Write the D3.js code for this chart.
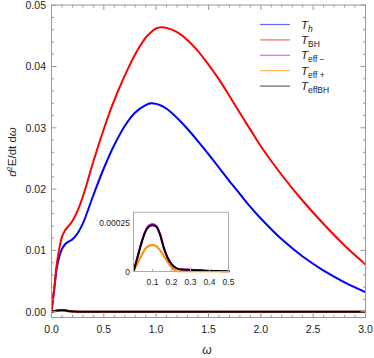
<!DOCTYPE html>
<html>
<head>
<meta charset="utf-8">
<script src="https://cdn.jsdelivr.net/npm/d3@7"></script>
<style>
  body { margin: 0; background: #fff; }
  text { font-family: "Liberation Sans", Arial, sans-serif; fill: #222; }
</style>
</head>
<body>
<div id="chart"></div>
<script>
// main curves (omega, d2E/dt domega)
var omegaMain = [0, 0.03, 0.05, 0.08, 0.1, 0.13, 0.16, 0.2, 0.25, 0.3, 0.4, 0.5, 0.6, 0.7, 0.8, 0.9, 0.95, 1.0, 1.05, 1.1, 1.2, 1.3, 1.4, 1.5, 1.6, 1.7, 1.8, 1.9, 2.0, 2.2, 2.4, 2.6, 2.8, 3.0];
var valsTh  = [0, 0.0042, 0.0071, 0.0093, 0.0102, 0.0110, 0.0114, 0.0118, 0.0128, 0.0144, 0.0190, 0.0234, 0.0272, 0.0303, 0.0325, 0.0337, 0.0340, 0.0339, 0.0336, 0.0331, 0.0316, 0.0298, 0.0278, 0.0257, 0.0235, 0.0213, 0.0192, 0.0171, 0.0152, 0.0118, 0.0090, 0.0067, 0.0048, 0.0032];
var valsTBH = [0, 0.0045, 0.0077, 0.0108, 0.0122, 0.0133, 0.0139, 0.0148, 0.0165, 0.0188, 0.0245, 0.0298, 0.0345, 0.0385, 0.0420, 0.0447, 0.0456, 0.0462, 0.0464, 0.0463, 0.0456, 0.0443, 0.0425, 0.0403, 0.0379, 0.0352, 0.0324, 0.0297, 0.0270, 0.0223, 0.0181, 0.0143, 0.0108, 0.0077];

// small curves
var omegaSmall = [0, 0.02, 0.04, 0.06, 0.08, 0.1, 0.12, 0.14, 0.16, 0.18, 0.2, 0.22, 0.24, 0.28, 0.32, 0.36, 0.4, 0.45, 0.5, 1.0, 3.0];
var valsEffMinus = [0, 0.000072, 0.000145, 0.000206, 0.000239, 0.000247, 0.000238, 0.000195, 0.000124, 0.000072, 0.000040, 0.000021, 0.000013, 0.000010, 0.000008, 0.000006, 0.000004, 0.000002, 0.000001, 0, 0];
var valsEffPlus  = [0, 0.000040, 0.000080, 0.000115, 0.000133, 0.000138, 0.000132, 0.000110, 0.000080, 0.000050, 0.000022, 0.000005, 0, 0, 0, 0, 0, 0, 0, 0, 0];
var valsEffBH    = [0, 0.000070, 0.000140, 0.000200, 0.000232, 0.000240, 0.000232, 0.000190, 0.000120, 0.000070, 0.000038, 0.000020, 0.000012, 0.000009, 0.000007, 0.000005, 0.000003, 0.000002, 0.000001, 0, 0];

var xTicks = [0, 0.5, 1.0, 1.5, 2.0, 2.5, 3.0];
var yTicks = [0, 0.01, 0.02, 0.03, 0.04, 0.05];
var insetXTicks = [0.1, 0.2, 0.3, 0.4, 0.5];
var insetYTicks = [0, 0.00025];

var series = [
  {key: "eff-", x: omegaSmall, y: valsEffMinus, color: "#ff00ff", legend: "#e466e4", sub: "eff \u2212"},
  {key: "eff+", x: omegaSmall, y: valsEffPlus, color: "#ff8c00", legend: "#ffb455", sub: "eff +"},
  {key: "Th", x: omegaMain, y: valsTh, color: "#0000ff", legend: "#6666ff", sub: "h", subItalic: true},
  {key: "TBH", x: omegaMain, y: valsTBH, color: "#ff0000", legend: "#ff6666", sub: "BH"},
  {key: "effBH", x: omegaSmall, y: valsEffBH, color: "#000000", legend: "#666666", sub: "effBH"}
];
var legendOrder = ["Th", "TBH", "eff-", "eff+", "effBH"];

var W = 374, H = 358;
var svg = d3.select("#chart").append("svg").attr("width", W).attr("height", H);

var x = d3.scaleLinear().domain([0, 3]).range([51.5, 365.5]);
var y = d3.scaleLinear().domain([0, 0.05]).range([311.7, 5.2]);
var yBottom = 317.5, yTop = 5;

function pts(s) { return s.x.map(function(v, i) { return [v, s.y[i]]; }); }

var line = d3.line().curve(d3.curveCatmullRom.alpha(0.5))
  .x(function(d) { return x(d[0]); })
  .y(function(d) { return y(d[1]); });

var g = svg.append("g");
g.append("defs").append("clipPath").attr("id", "clipMain")
  .append("rect").attr("x", x(0)).attr("y", yTop).attr("width", x(3) - x(0)).attr("height", yBottom - yTop);

var plot = g.append("g").attr("clip-path", "url(#clipMain)");
series.forEach(function(s) {
  plot.append("path").attr("d", line(pts(s)))
    .attr("fill", "none").attr("stroke", s.color).attr("stroke-width", 2);
});

// frame
g.append("rect").attr("x", x(0)).attr("y", yTop).attr("width", x(3) - x(0)).attr("height", yBottom - yTop)
  .attr("fill", "none").attr("stroke", "#999").attr("stroke-width", 1);

// ticks
var tk = g.append("g").attr("stroke", "#999").attr("stroke-width", 1);
d3.range(0, 3.0001, 0.1).forEach(function(v) {
  var major = Math.abs(v * 2 - Math.round(v * 2)) < 1e-6;
  var len = major ? 5 : 2.5;
  tk.append("line").attr("x1", x(v)).attr("x2", x(v)).attr("y1", yBottom).attr("y2", yBottom - len);
  tk.append("line").attr("x1", x(v)).attr("x2", x(v)).attr("y1", yTop).attr("y2", yTop + len);
});
d3.range(0, 0.0501, 0.002).forEach(function(v) {
  var major = Math.abs(v * 100 - Math.round(v * 100)) < 1e-6;
  var len = major ? 5 : 2.5;
  tk.append("line").attr("y1", y(v)).attr("y2", y(v)).attr("x1", x(0)).attr("x2", x(0) + len);
  tk.append("line").attr("y1", y(v)).attr("y2", y(v)).attr("x1", x(3)).attr("x2", x(3) - len);
});

g.selectAll(".xl").data(xTicks).enter().append("text")
  .attr("x", function(d) { return x(d); }).attr("y", 332.5)
  .attr("text-anchor", "middle").attr("font-size", 10.5)
  .text(function(d) { return d3.format(".1f")(d); });
g.selectAll(".yl").data(yTicks).enter().append("text")
  .attr("x", 46).attr("y", function(d) { return y(d) + 3.8; })
  .attr("text-anchor", "end").attr("font-size", 10.5)
  .text(function(d) { return d3.format(".2f")(d); });

// axis labels
svg.append("text").attr("x", 207).attr("y", 354).attr("text-anchor", "middle")
  .attr("font-size", 12).attr("font-style", "italic").text("\u03c9");
var yl = svg.append("text").attr("transform", "translate(16,152) rotate(-90)")
  .attr("text-anchor", "middle").attr("font-size", 11.5);
yl.append("tspan").attr("font-style", "italic").text("d");
yl.append("tspan").attr("font-size", 7.5).attr("dy", -4).text("2");
yl.append("tspan").attr("dy", 4).text("E/dt d");
yl.append("tspan").attr("font-style", "italic").text("\u03c9");

// legend
var lg = svg.append("g");
legendOrder.forEach(function(k, i) {
  var s = series.find(function(d) { return d.key === k; });
  var ly = 24.5 + i * 15.4;
  lg.append("line").attr("x1", 260).attr("x2", 290).attr("y1", ly).attr("y2", ly)
    .attr("stroke", s.legend).attr("stroke-width", 1.2);
  var t = lg.append("text").attr("x", 301).attr("y", ly + 4).attr("font-size", 11.5);
  t.append("tspan").attr("font-style", "italic").text("T");
  t.append("tspan").attr("font-size", 8.5).attr("dy", 3)
    .attr("font-style", s.subItalic ? "italic" : "normal").text(s.sub);
});

// inset
var ix = d3.scaleLinear().domain([0, 0.5]).range([133.5, 228.5]);
var iy = d3.scaleLinear().domain([0, 0.00025]).range([271.5, 223.3]);
var iTop = 212.3, iBottom = 271.5;
var ig = svg.append("g");
ig.append("rect").attr("x", ix(0)).attr("y", iTop).attr("width", ix(0.5) - ix(0)).attr("height", iBottom - iTop)
  .attr("fill", "#fff");
ig.append("defs").append("clipPath").attr("id", "clipInset")
  .append("rect").attr("x", ix(0)).attr("y", iTop).attr("width", ix(0.5) - ix(0) + 1).attr("height", iBottom - iTop + 1);
var iline = d3.line().curve(d3.curveMonotoneX)
  .x(function(d) { return ix(d[0]); })
  .y(function(d) { return iy(d[1]); });
var ip = ig.append("g").attr("clip-path", "url(#clipInset)");
series.filter(function(s) { return s.x === omegaSmall; }).forEach(function(s) {
  ip.append("path").attr("d", iline(pts(s)))
    .attr("fill", "none").attr("stroke", s.color).attr("stroke-width", 2);
});
ig.append("rect").attr("x", ix(0)).attr("y", iTop).attr("width", ix(0.5) - ix(0)).attr("height", iBottom - iTop)
  .attr("fill", "none").attr("stroke", "#aaa").attr("stroke-width", 1);
insetXTicks.forEach(function(v) {
  ig.append("line").attr("x1", ix(v)).attr("x2", ix(v)).attr("y1", iBottom).attr("y2", iBottom - 2.5).attr("stroke", "#aaa");
});
ig.selectAll(".ixl").data(insetXTicks).enter().append("text")
  .attr("x", function(d) { return ix(d); }).attr("y", 285)
  .attr("text-anchor", "middle").attr("font-size", 8.5)
  .text(function(d) { return d3.format(".1f")(d); });
ig.selectAll(".iyl").data(insetYTicks).enter().append("text")
  .attr("x", 130).attr("y", function(d) { return iy(d) + 3; })
  .attr("text-anchor", "end").attr("font-size", 8.5)
  .text(function(d) { return d === 0 ? "0" : "0.00025"; });
</script>
</body>
</html>
